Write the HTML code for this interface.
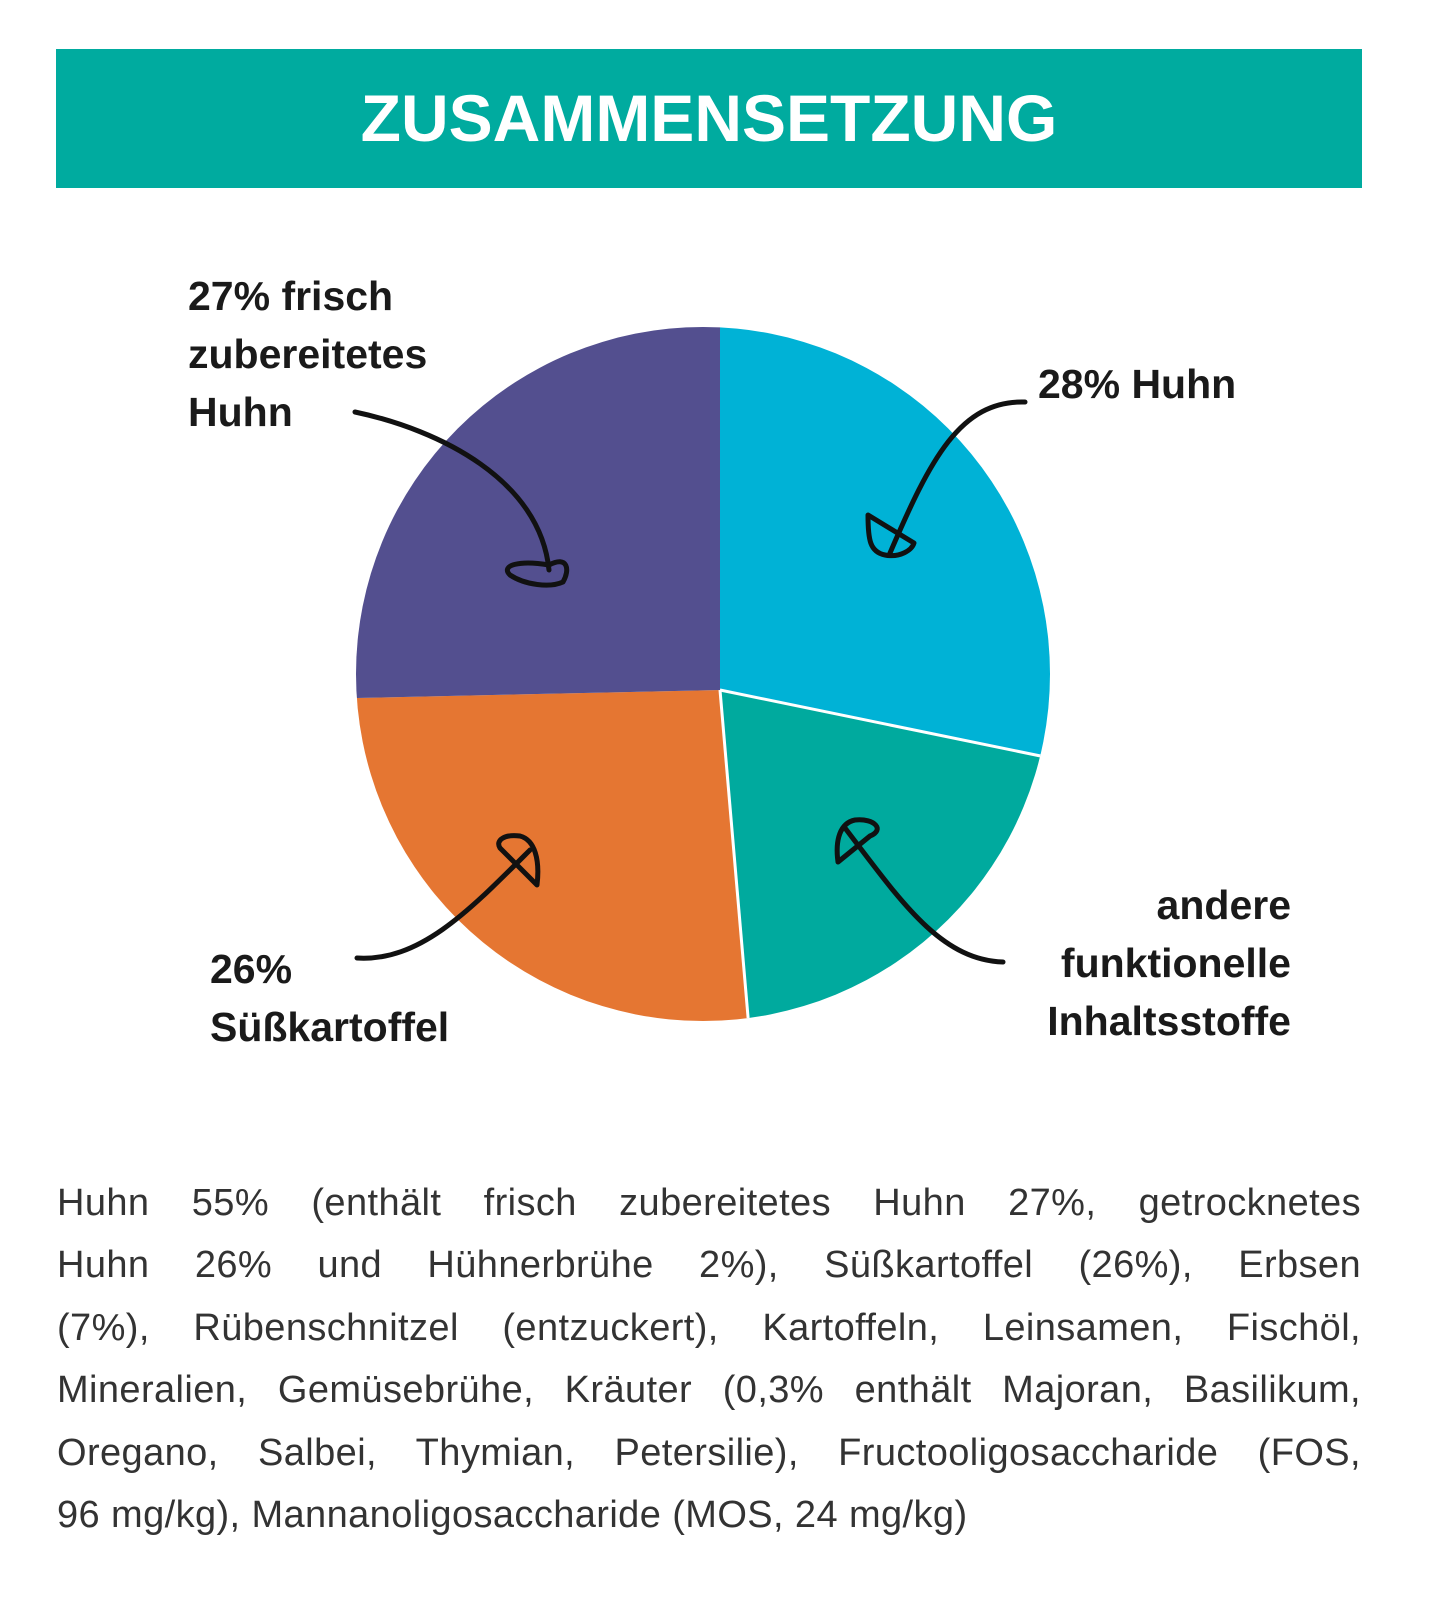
<!DOCTYPE html>
<html><head><meta charset="utf-8"><style>
html,body{margin:0;padding:0;background:#fff;}
body{width:1445px;height:1609px;position:relative;overflow:hidden;font-family:"Liberation Sans",sans-serif;}
.hdr{position:absolute;left:56px;top:49px;width:1306px;height:139px;background:#00ab9f;color:#fff;font-weight:bold;font-size:66px;text-align:center;line-height:139px;}
.lbl{position:absolute;font-weight:bold;font-size:41px;line-height:58px;color:#1a1a1a;}
.body{position:absolute;left:57px;top:1172px;width:1304px;font-size:38px;letter-spacing:0.4px;line-height:62.4px;color:#333;}
.body div{text-align:justify;text-align-last:justify;white-space:nowrap;}
.body div.last{text-align-last:left;}
</style></head><body>
<div class="hdr">ZUSAMMENSETZUNG</div>
<svg width="1445" height="1609" style="position:absolute;left:0;top:0">
<defs><clipPath id="c"><circle cx="703" cy="674" r="347"/></clipPath></defs>
<g clip-path="url(#c)">
<polygon points="720,690 720,200 1200,200 1200,795 1040,755" fill="#00b2d6"/>
<polygon points="720,690 1040,755 1200,795 1200,1200 760,1200 748,1018" fill="#00aa9e"/>
<polygon points="720,690 748,1018 760,1200 200,1200 200,710 357,698" fill="#e57632"/>
<polygon points="720,690 357,698 200,710 200,200 720,200" fill="#534f8f"/>
<line x1="720" y1="690" x2="1060" y2="760" stroke="#fff" stroke-width="3"/>
<line x1="720" y1="690" x2="750" y2="1040" stroke="#fff" stroke-width="3"/>
</g>
<g fill="none" stroke="#111" stroke-width="5" stroke-linecap="round" stroke-linejoin="round">
<path d="M355,412 C440,430 540,480 549,570"/>
<path d="M549,565 C520,560 500,565 510,575 C525,585 550,588 563,582 C570,570 568,555 549,565 Z"/>
<path d="M1025,402 C960,400 930,460 890,553"/>
<path d="M868,515 C868,540 870,552 885,555 C900,558 912,550 914,543 Z"/>
<path d="M357,958 C420,962 470,910 530,850"/>
<path d="M537,885 C540,860 535,840 520,836 C505,834 495,840 500,848 Z"/>
<path d="M1003,962 C940,960 900,900 845,828"/>
<path d="M838,862 C835,840 840,823 855,820 C875,818 885,830 870,836 Z"/>
</g>
</svg>
<div class="lbl" style="left:188px;top:267px">27% frisch<br>zubereitetes<br>Huhn</div>
<div class="lbl" style="left:1038px;top:355px">28% Huhn</div>
<div class="lbl" style="left:900px;top:876px;width:391px;text-align:right">andere<br>funktionelle<br>Inhaltsstoffe</div>
<div class="lbl" style="left:210px;top:940px">26%<br>Süßkartoffel</div>
<div class="body">
<div>Huhn 55% (enthält frisch zubereitetes Huhn 27%, getrocknetes</div>
<div>Huhn 26% und Hühnerbrühe 2%), Süßkartoffel (26%), Erbsen</div>
<div>(7%), Rübenschnitzel (entzuckert), Kartoffeln, Leinsamen, Fischöl,</div>
<div>Mineralien, Gemüsebrühe, Kräuter (0,3% enthält Majoran, Basilikum,</div>
<div>Oregano, Salbei, Thymian, Petersilie), Fructooligosaccharide (FOS,</div>
<div class="last">96 mg/kg), Mannanoligosaccharide (MOS, 24 mg/kg)</div>
</div>
</body></html>
